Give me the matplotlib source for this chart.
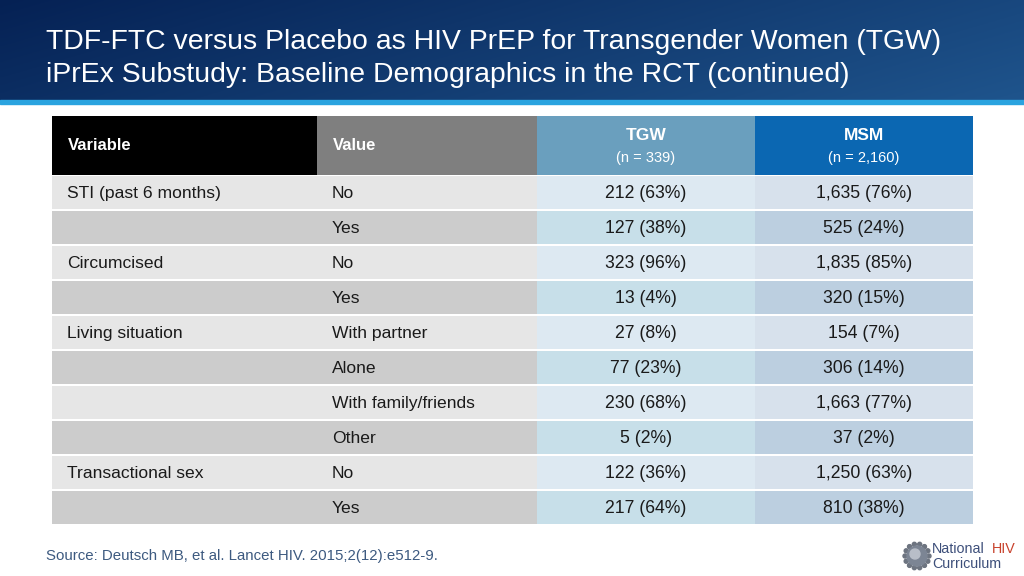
import numpy as np
import matplotlib
matplotlib.use('Agg')
import matplotlib.pyplot as plt
from matplotlib.patches import Rectangle, Circle

# table contents
variables = ['STI (past 6 months)', '', 'Circumcised', '', 'Living situation', '', '', '',
             'Transactional sex', '']
values = ['No', 'Yes', 'No', 'Yes', 'With partner', 'Alone', 'With family/friends', 'Other',
          'No', 'Yes']
tgw = ['212 (63%)', '127 (38%)', '323 (96%)', '13 (4%)', '27 (8%)', '77 (23%)', '230 (68%)',
       '5 (2%)', '122 (36%)', '217 (64%)']
msm = ['1,635 (76%)', '525 (24%)', '1,835 (85%)', '320 (15%)', '154 (7%)', '306 (14%)',
       '1,663 (77%)', '37 (2%)', '1,250 (63%)', '810 (38%)']
headers = ['Variable', 'Value', 'TGW', 'MSM']
header_n = ['', '', '(n = 339)', '(n = 2,160)']
title_lines = ['TDF-FTC versus Placebo as HIV PrEP for Transgender Women (TGW)',
               'iPrEx Substudy: Baseline Demographics in the RCT (continued)']
source = 'Source: Deutsch MB, et al. Lancet HIV. 2015;2(12):e512-9.'

# layout (pixels)
W, H = 1024, 576
COL_X = [52, 317, 537, 755, 973]
HEAD_TOP, HEAD_BOT = 116, 175
ROW_H = 35
GAP = 2
SANS = 'Liberation Sans'

head_colors = ['#000000', '#7f7f7f', '#6a9fbe', '#0b67b2']
light_colors = ['#e6e6e6', '#e6e6e6', '#dde9f2', '#d7e1ec']
dark_colors = ['#cccccc', '#cccccc', '#c7dfe9', '#bccfe0']

fig = plt.figure(figsize=(W / 100, H / 100), dpi=100)
ax = fig.add_axes([0, 0, 1, 1])
ax.set_xlim(0, W)
ax.set_ylim(H, 0)
ax.axis('off')

# title banner with a soft gradient
grad = np.linspace(0, 1, 256)
gx, gy = np.meshgrid(grad, np.linspace(0, 1, 64))
t = 0.75 * gx + 0.25 * gy
c0 = np.array([0.02, 0.13, 0.33])
c1 = np.array([0.12, 0.33, 0.55])
img = c0[None, None, :] * (1 - t[..., None]) + c1[None, None, :] * t[..., None]
ax.imshow(img, extent=[0, W, 101, 0], aspect='auto', zorder=0)
ax.add_patch(Rectangle((0, 100), W, 4, color='#2aa3df', zorder=1))
ax.text(46, 42, title_lines[0], color='white', fontsize=20.4, family=SANS, va='center')
ax.text(46, 75, title_lines[1], color='white', fontsize=20.4, family=SANS, va='center')

# header row
for j in range(4):
    x0, x1 = COL_X[j], COL_X[j + 1]
    ax.add_patch(Rectangle((x0, HEAD_TOP), x1 - x0, HEAD_BOT - HEAD_TOP,
                           color=head_colors[j], lw=0))
    if j < 2:
        ax.text(x0 + 16, (HEAD_TOP + HEAD_BOT) / 2, headers[j], color='white', fontsize=12,
                weight='bold', family=SANS, va='center')
    else:
        xc = (x0 + x1) / 2
        ax.text(xc, 136, headers[j], color='white', fontsize=12.5, weight='bold', family=SANS,
                ha='center', va='center')
        ax.text(xc, 158, header_n[j], color='white', fontsize=10.5, family=SANS,
                ha='center', va='center')

# body rows
for i in range(len(values)):
    top = HEAD_BOT + i * ROW_H
    cols = light_colors if i % 2 == 0 else dark_colors
    cells = [variables[i], values[i], tgw[i], msm[i]]
    yc = top + ROW_H / 2 + 1
    for j in range(4):
        x0, x1 = COL_X[j], COL_X[j + 1]
        ax.add_patch(Rectangle((x0, top + GAP / 2), x1 - x0, ROW_H - GAP,
                               color=cols[j], lw=0))
        if j < 2:
            ax.text(x0 + 15, yc, cells[j], color='#1a1a1a', fontsize=12.6, family=SANS,
                    va='center')
        else:
            ax.text((x0 + x1) / 2, yc, cells[j], color='#1a1a1a', fontsize=12.7,
                    family=SANS, ha='center', va='center')

# footer
ax.text(46, 556, source, color='#3d5a80', fontsize=10.8, family=SANS, va='center')

# logo
cx, cy = 917, 556
for a in np.linspace(0, 2 * np.pi, 14, endpoint=False):
    ax.add_patch(Circle((cx + 12 * np.cos(a), cy + 12 * np.sin(a)), 2.0, color='#6d7480'))
ax.add_patch(Circle((cx, cy), 10, color='#7c8594'))
ax.add_patch(Circle((cx - 2, cy - 2), 5, color='#b8bec8'))
ax.text(932, 549, 'National', color='#3d4f7a', fontsize=10.3, family=SANS, va='center')
ax.text(1016, 549, 'HIV', color='#c8422c', fontsize=10.3, family=SANS, va='center', ha='right')
ax.text(932, 564, 'Curriculum', color='#3d4f7a', fontsize=10.3, family=SANS, va='center')

fig.savefig('out.png', dpi=100)
